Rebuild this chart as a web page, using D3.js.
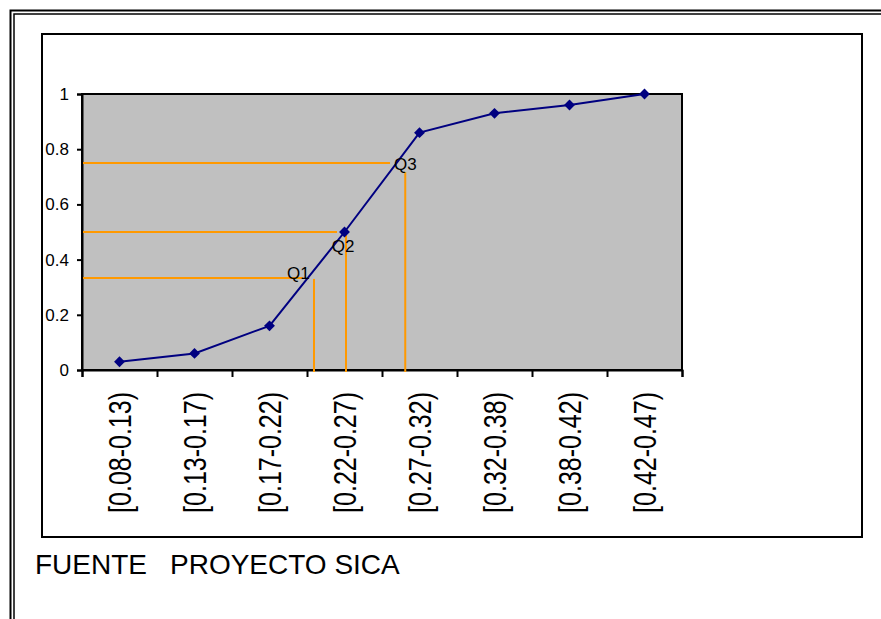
<!DOCTYPE html>
<html>
<head>
<meta charset="utf-8">
<script src="https://cdn.jsdelivr.net/npm/d3@7"></script>
<style>
  body { margin: 0; background: #fff; }
  svg { display: block; font-family: "Liberation Sans", Arial, sans-serif; }
</style>
</head>
<body>
<svg width="881" height="619"></svg>
<script>
// categories (intervals) and cumulative relative frequency
var categories = ["[0.08-0.13)", "[0.13-0.17)", "[0.17-0.22)", "[0.22-0.27)",
                  "[0.27-0.32)", "[0.32-0.38)", "[0.38-0.42)", "[0.42-0.47)"];
var cumFreq    = [0.03, 0.06, 0.16, 0.50, 0.86, 0.93, 0.96, 1.00];
var yTicks     = [0, 0.2, 0.4, 0.6, 0.8, 1];

// quartile guides: level, x of vertical line (category axis units), end of horizontal line, top of vertical line
var qNames  = ["Q1", "Q2", "Q3"];
var qLevel  = [0.333, 0.5, 0.75];
var qPos    = [3.093, 3.52, 4.31];
var qHEnd   = [2.947, 3.40, 4.107];
var qVTop   = [0.33, 0.504, 0.717];
var qLabelX = [2.733, 3.33, 4.16];
var qLabelY = [0.33, 0.429, 0.725];

var source = ["FUENTE", "PROYECTO SICA"];

var svg = d3.select("svg");

// outer double frame (only top/left visible)
svg.append("path").attr("d", "M10.5,619V10.5H881")
   .attr("fill", "none").attr("stroke", "#000").attr("stroke-width", 2);
svg.append("path").attr("d", "M14,619V14H881")
   .attr("fill", "none").attr("stroke", "#000").attr("stroke-width", 1.5);

// chart area
svg.append("rect").attr("x", 42).attr("y", 34).attr("width", 820).attr("height", 503)
   .attr("fill", "#fff").attr("stroke", "#000").attr("stroke-width", 2);

var plot = {left: 82, top: 94, right: 682, bottom: 370};

var x = d3.scaleLinear().domain([0, categories.length]).range([plot.left, plot.right]);
var y = d3.scaleLinear().domain([0, 1]).range([plot.bottom, plot.top]);

var g = svg.append("g");

// plot area
g.append("rect")
   .attr("x", plot.left).attr("y", plot.top)
   .attr("width", plot.right - plot.left).attr("height", plot.bottom - plot.top)
   .attr("fill", "#c0c0c0").attr("stroke", "#000").attr("stroke-width", 2);

// y axis
var yAxis = g.append("g")
   .attr("transform", "translate(" + plot.left + ",0)")
   .call(d3.axisLeft(y).tickValues(yTicks).tickSize(5).tickPadding(8)
           .tickFormat(function(d) { return d3.format("~g")(d); }));
yAxis.select(".domain").attr("stroke-width", 2);
yAxis.selectAll(".tick line").attr("stroke-width", 2);
yAxis.selectAll("text").attr("font-size", 17).attr("font-family", "Liberation Sans, Arial, sans-serif")
   .attr("fill", "#000");

// x axis (ticks between categories)
var xAxis = g.append("g")
   .attr("transform", "translate(0," + plot.bottom + ")")
   .call(d3.axisBottom(x).tickValues(d3.range(categories.length + 1)).tickSize(7).tickFormat(""));
xAxis.select(".domain").attr("stroke-width", 2);
xAxis.selectAll(".tick line").attr("stroke-width", 2);

g.selectAll(".xlabel")
   .data(categories)
   .enter().append("text")
     .attr("class", "xlabel")
     .attr("transform", function(d, i) {
        return "translate(" + x(i + 0.5) + ",392) rotate(-90) scale(1,1.24)";
     })
     .attr("text-anchor", "end")
     .attr("dy", "0.358em")
     .attr("font-size", 25)
     .text(function(d) { return d; });

// quartile guides
var orange = "#ff9900";
g.selectAll(".qh")
   .data(qLevel)
   .enter().append("line")
     .attr("class", "qh")
     .attr("x1", plot.left + 1)
     .attr("x2", function(d, i) { return x(qHEnd[i]); })
     .attr("y1", function(d) { return y(d); })
     .attr("y2", function(d) { return y(d); })
     .attr("stroke", orange).attr("stroke-width", 2);

g.selectAll(".qv")
   .data(qPos)
   .enter().append("line")
     .attr("class", "qv")
     .attr("x1", function(d) { return x(d); })
     .attr("x2", function(d) { return x(d); })
     .attr("y1", function(d, i) { return y(qVTop[i]); })
     .attr("y2", y(0) + 2)
     .attr("stroke", orange).attr("stroke-width", 2);

// cumulative line
var line = d3.line()
   .x(function(d, i) { return x(i + 0.5); })
   .y(function(d) { return y(d); });

g.append("path")
   .datum(cumFreq)
   .attr("d", line)
   .attr("fill", "none")
   .attr("stroke", "#000080")
   .attr("stroke-width", 2);

g.selectAll(".pt")
   .data(cumFreq)
   .enter().append("path")
     .attr("class", "pt")
     .attr("transform", function(d, i) { return "translate(" + x(i + 0.5) + "," + y(d) + ")"; })
     .attr("d", d3.symbol().type(d3.symbolDiamond2).size(75))
     .attr("fill", "#000080");

g.selectAll(".qlabel")
   .data(qNames)
   .enter().append("text")
     .attr("class", "qlabel")
     .attr("x", function(d, i) { return x(qLabelX[i]); })
     .attr("y", function(d, i) { return y(qLabelY[i]); })
     .attr("font-size", 17)
     .attr("fill", "#000")
     .text(function(d) { return d; });

// source note
svg.append("text").attr("x", 35).attr("y", 574).attr("font-size", 28).text(source[0]);
svg.append("text").attr("x", 170).attr("y", 574).attr("font-size", 28).text(source[1]);
</script>
</body>
</html>
